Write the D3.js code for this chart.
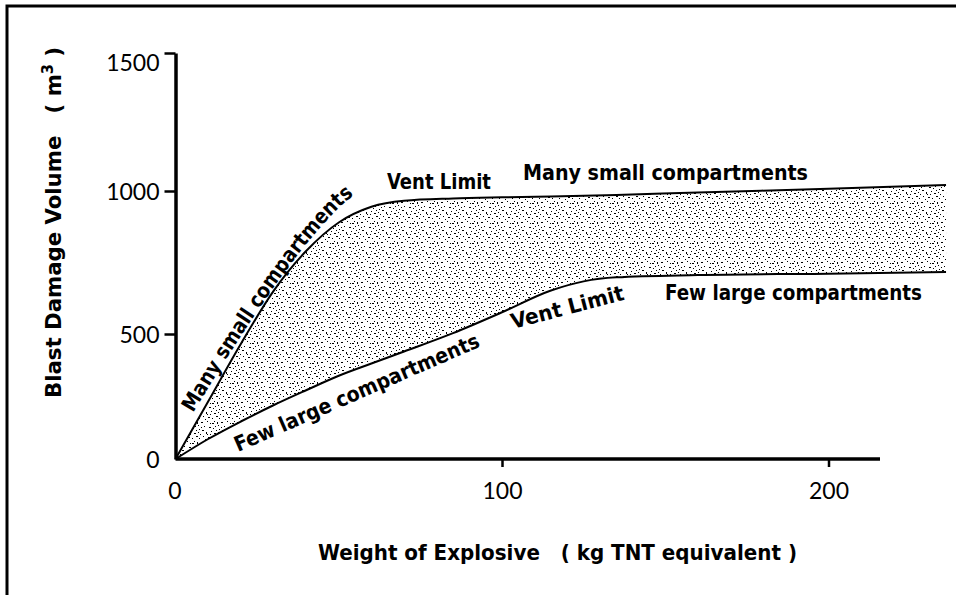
<!DOCTYPE html>
<html><head><meta charset="utf-8">
<script src="https://cdn.jsdelivr.net/npm/d3@7"></script>
<style>
html,body{margin:0;padding:0;background:#fff;}
svg{display:block;}
text{white-space:pre;}
</style></head><body>
<svg id="chart" width="956" height="595"></svg>
<script>
// ---- data ----
const weights   = [0, 10, 20, 30, 40, 50, 60, 70, 85, 100, 115, 125, 135, 160, 200, 236];
const manySmall = [0, 230, 460, 650, 790, 890, 945, 966, 974, 978, 981, 983, 986, 995, 1008, 1022];
const fewLarge  = [0, 80, 150, 215, 275, 333, 382, 430, 503, 576, 652, 684, 698, 706, 711, 717];
const xTicks = [0, 100, 200];
const yTicks = [0, 500, 1000, 1500];
const xTitle = "Weight of Explosive   ( kg TNT equivalent )";
const yTitle = "Blast Damage Volume   ( m";
const curveLabels = ["Many small compartments", "Vent Limit", "Many small compartments",
                     "Few large compartments", "Vent Limit", "Few large compartments"];

const svg = d3.select("#chart");
const boldFont = "'DejaVu Sans Condensed','Liberation Sans Narrow','DejaVu Sans',sans-serif";
const tickFont = "Lato,'DejaVu Sans',sans-serif";

const x = d3.scaleLinear().domain([0, 200]).range([175.5, 828.5]);
const y = d3.scaleLinear().domain(yTicks).range([459, 334, 191, 53]);

// frame
svg.append("path").attr("d", "M7,595V6H956").attr("fill", "none")
  .attr("stroke", "#000").attr("stroke-width", 3);

// stipple pattern
const dots = [[1,2,2,1],[7,1,1,1],[12,3,2,1],[17,2,1,2],[4,6,1,1],[9,7,2,1],[15,6,1,1],
  [19,9,1,1],[2,10,2,1],[6,12,1,2],[11,11,1,1],[14,13,2,1],[18,12,1,1],[3,16,1,1],
  [8,17,2,1],[12,18,1,1],[16,16,2,1],[0,14,1,1],[16,10,1,1],[10,3,1,1],[13,8,1,1],
  [5,19,1,1],[19,18,1,1],[7,14,1,1],[1,7,1,1],[18,5,1,1],[10,14,1,1],[14,1,1,1]];
const pat = svg.append("defs").append("pattern").attr("id", "stip")
  .attr("patternUnits", "userSpaceOnUse").attr("width", 20).attr("height", 20);
pat.selectAll("rect").data(dots).join("rect")
  .attr("x", d => d[0]).attr("y", d => d[1]).attr("width", d => d[2]).attr("height", d => d[3])
  .attr("fill", "#000");

// band
const area = d3.area().x((d, i) => x(weights[i])).y0((d, i) => y(fewLarge[i])).y1(d => y(d))
  .curve(d3.curveMonotoneX);
svg.append("path").attr("d", area(manySmall)).attr("fill", "url(#stip)");

const line = d3.line().x((d, i) => x(weights[i])).y(d => y(d)).curve(d3.curveMonotoneX);
[manySmall, fewLarge].forEach(s => {
  svg.append("path").attr("d", line(s)).attr("fill", "none")
    .attr("stroke", "#000").attr("stroke-width", 2);
});

// axes
const yAxis = svg.append("g").attr("transform", `translate(${x(0)},0)`)
  .call(d3.axisLeft(y).tickValues(yTicks).tickFormat(d3.format("d"))
    .tickSize(11).tickSizeOuter(0).tickPadding(6));
const xAxis = svg.append("g").attr("transform", `translate(0,${y(0)})`)
  .call(d3.axisBottom(x).tickValues(xTicks).tickFormat(d3.format("d"))
    .tickSize(8).tickSizeOuter(0));
xAxis.select(".domain").attr("d", `M${x(0)},0H880`);
[yAxis, xAxis].forEach(g => {
  g.select(".domain").attr("stroke", "#000").attr("stroke-width", 3.5);
  g.selectAll(".tick line").attr("stroke", "#000").attr("stroke-width", 2.5);
  g.selectAll(".tick").filter(d => d === 0).select("line").remove();
  g.selectAll(".tick text").attr("font-family", tickFont).attr("font-size", 23)
    .attr("fill", "#000");
});
yAxis.selectAll(".tick text").attr("x", -16).attr("dy", "0.36em");
yAxis.selectAll(".tick").filter(d => d === 1500).select("text").attr("dy", "0.75em");
xAxis.selectAll(".tick text").attr("y", 24).attr("dy", "0.71em");
xAxis.selectAll(".tick").filter(d => d === 0).select("text").attr("x", -1);

// titles
svg.append("text").attr("x", 318).attr("y", 560).attr("textLength", 479)
  .attr("lengthAdjust", "spacingAndGlyphs")
  .attr("font-family", boldFont).attr("font-weight", "bold").attr("font-size", 22)
  .text(xTitle);
const yt = svg.append("text").attr("transform", "translate(61,398) rotate(-90)")
  .attr("textLength", 351).attr("lengthAdjust", "spacingAndGlyphs")
  .attr("font-family", boldFont).attr("font-weight", "bold").attr("font-size", 22);
yt.append("tspan").text(yTitle);
yt.append("tspan").attr("dy", -8).attr("font-size", 15).text("3");
yt.append("tspan").attr("dy", 8).text(" )");

// curve labels
const lab = (t, tx, ty, rot, len) => svg.append("text")
  .attr("transform", `translate(${tx},${ty}) rotate(${rot})`)
  .attr("textLength", len).attr("lengthAdjust", "spacingAndGlyphs")
  .attr("font-family", boldFont).attr("font-weight", "bold").attr("font-size", 21)
  .text(t);

svg.append("path").attr("id", "guide1").attr("d", "M193,413Q303,230 357,193")
  .attr("fill", "none").attr("stroke", "none");
svg.append("text").attr("font-family", boldFont).attr("font-weight", "bold").attr("font-size", 21)
  .append("textPath").attr("href", "#guide1").attr("textLength", 272)
  .attr("lengthAdjust", "spacingAndGlyphs").text(curveLabels[0]);

lab(curveLabels[1], 387, 189, 0, 104);
lab(curveLabels[2], 523, 180, 0, 285);
lab(curveLabels[3], 238, 452, -23.5, 265);
lab(curveLabels[4], 513, 329, -14.7, 116);
lab(curveLabels[5], 665, 300, 0, 257);
</script>
</body></html>
